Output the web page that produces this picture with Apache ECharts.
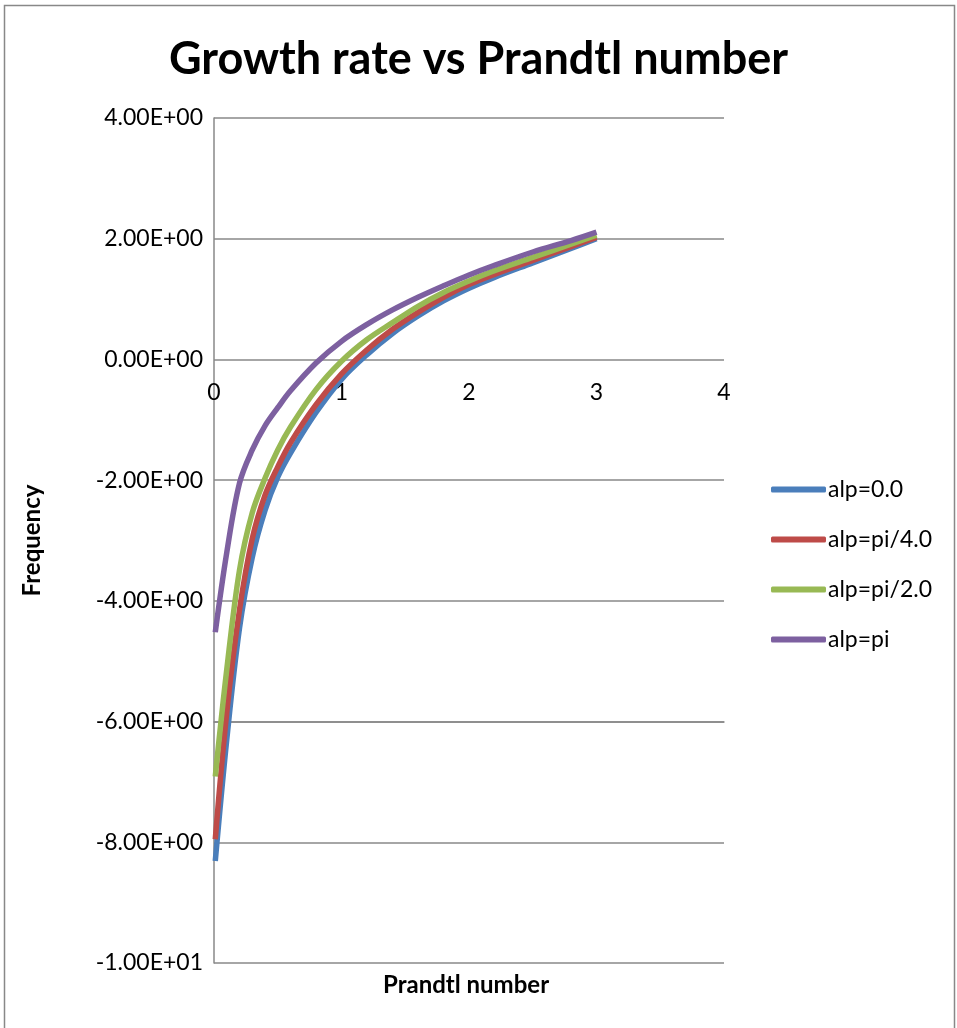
<!DOCTYPE html>
<html>
<head>
<meta charset="utf-8">
<script src="https://cdn.jsdelivr.net/npm/echarts@6/dist/echarts.min.js"></script>
<style>
  html, body { margin: 0; padding: 0; background: #fff; }
  #chart { width: 957px; height: 1028px; }
</style>
</head>
<body>
<div id="chart"></div>
<script>
// Growth rate vs Prandtl number
const prandtl = [0.01, 0.1, 0.2, 0.3, 0.4, 0.5, 0.6, 0.8, 1.0, 1.2, 1.4, 1.6, 1.8, 2.0, 2.2, 2.5, 2.8, 3.0];
const alp0 = [-8.31, -6.3, -4.45, -3.28, -2.5, -1.95, -1.55, -0.88, -0.33, 0.08, 0.43, 0.72, 0.97, 1.18, 1.36, 1.6, 1.84, 2.0];
const alpPi4 = [-7.95, -5.85, -4.15, -2.97, -2.25, -1.78, -1.38, -0.75, -0.24, 0.16, 0.5, 0.78, 1.03, 1.24, 1.41, 1.64, 1.87, 2.02];
const alpPi2 = [-6.91, -5.14, -3.49, -2.54, -1.97, -1.5, -1.12, -0.5, -0.03, 0.33, 0.61, 0.88, 1.11, 1.3, 1.47, 1.69, 1.91, 2.06];
const alpPi = [-4.52, -3.2, -2.05, -1.5, -1.1, -0.8, -0.52, -0.06, 0.3, 0.58, 0.82, 1.03, 1.22, 1.4, 1.56, 1.78, 1.97, 2.11];

const seriesNames = ['alp=0.0', 'alp=pi/4.0', 'alp=pi/2.0', 'alp=pi'];
const seriesData = [alp0, alpPi4, alpPi2, alpPi];
const colors = ['#4A7EBB', '#BE4B48', '#98B954', '#7D60A0'];

const font = 'Lato, "Open Sans", sans-serif';

// 4.00E+00 style labels
function sci(v) {
    if (v === 0) return '0.00E+00';
    let exp = Math.floor(Math.log10(Math.abs(v)));
    let mant = v / Math.pow(10, exp);
    let sign = exp < 0 ? '-' : '+';
    let e = Math.abs(exp);
    return mant.toFixed(2) + 'E' + sign + (e < 10 ? '0' + e : e);
}

const chartDom = document.getElementById('chart');
const myChart = echarts.init(chartDom);
myChart.setOption({
    animation: false,
    textStyle: { fontFamily: font },
    title: {
        text: 'Growth rate vs Prandtl number',
        left: 'center',
        top: 32,
        textStyle: { fontSize: 45, fontWeight: 'bold', color: '#000', fontFamily: font }
    },
    graphic: [
        {
            type: 'rect',
            shape: { x: 4.5, y: 5.5, width: 950, height: 1040 },
            style: { fill: 'none', stroke: '#888', lineWidth: 1.5 },
            silent: true
        },
        {
            type: 'text',
            left: 383,
            top: 973,
            style: { text: 'Prandtl number', font: 'bold 24px ' + font, fill: '#000' }
        }
    ],
    legend: {
        orient: 'vertical',
        left: 771,
        top: 478,
        padding: 0,
        icon: 'roundRect',
        itemWidth: 55,
        itemHeight: 6,
        itemGap: 27,
        data: seriesNames,
        textStyle: { fontSize: 23, lineHeight: 20, color: '#000', padding: [0, 0, 0, -3] }
    },
    grid: { left: 214, right: 233, top: 118, bottom: 65, containLabel: false },
    xAxis: {
        type: 'value',
        min: 0,
        max: 4,
        interval: 1,
        offset: -603.6, // axis sits on y = 0
        axisLine: { lineStyle: { color: '#888', width: 1.5 } },
        axisTick: { show: false },
        splitLine: { show: false },
        axisLabel: { fontSize: 23, color: '#000', margin: 22 }
    },
    yAxis: {
        type: 'value',
        min: -10,
        max: 4,
        interval: 2,
        name: 'Frequency',
        nameLocation: 'middle',
        nameGap: 170,
        nameTextStyle: { fontSize: 24, fontWeight: 'bold', color: '#000' },
        axisLine: { show: true, lineStyle: { color: '#888', width: 1.5 } },
        axisTick: { show: false },
        splitLine: { lineStyle: { color: '#888', width: 1.5 } },
        axisLabel: { fontSize: 23, color: '#000', margin: 11, formatter: sci }
    },
    series: seriesData.map((d, i) => ({
        name: seriesNames[i],
        type: 'line',
        data: prandtl.map((x, j) => [x, d[j]]),
        smooth: 0.35,
        showSymbol: false,
        color: colors[i],
        lineStyle: { width: 5.5, color: colors[i] }
    }))
});
</script>
</body>
</html>
